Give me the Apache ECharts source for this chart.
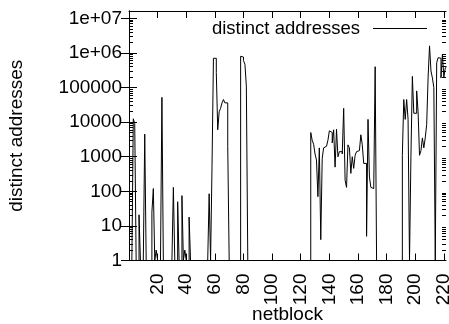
<!DOCTYPE html>
<html>
<head>
<meta charset="utf-8">
<script src="https://cdn.jsdelivr.net/npm/echarts@6/dist/echarts.min.js"></script>
<style>
  html, body { margin: 0; padding: 0; background: #fff; }
  #chart { width: 449px; height: 324px; }
</style>
</head>
<body>
<div id="chart"></div>
<script>
// Distinct source addresses seen per netblock (log scale).
const FIRST_BLOCK = 0;
const LAST_BLOCK = 222;
const X_MAX = 221.5;
const EMPTY_COUNT = 1;   // blocks with nothing observed rest on the axis floor

// Runs of consecutive netblocks: start block + counts
const runA_start = 0;
const runA = [1, 1, 1, 12500, 9000, 1, 1, 21, 1, 1, 1, 4500, 1, 1, 1, 1, 25, 120, 1, 2,
              1, 1, 1, 52000, 1, 1, 1, 1, 1, 1, 1, 130, 1, 1, 50, 1, 1, 75, 1, 2,
              1, 1, 18, 1];
const runB_start = 56;
const runB = [85, 1, 500, 700000, 700000, 270000, 6000, 20000, 25000, 36000, 45000,
              36000, 36000, 2000, 1];
const runC_start = 78;
const runC = [800000, 760000, 600000, 470000, 110000, 1];
const runD_start = 127;
const runD = [5000, 3000, 2300, 1200, 800, 70, 1800, 4, 900, 1800, 2000, 2000, 3000,
              5600, 5000, 2500, 6000, 500, 6200, 1000, 1400, 1400, 1200, 25000, 210,
              130, 2200, 1800, 330, 1000, 460, 1100, 1400, 1500, 1500, 4300, 2200, 640,
              640, 5, 12000, 260, 130, 120, 120, 400000, 1];
const runE_start = 191;
const runE = [1100, 45000, 12000, 45000, 12000, 1, 1000, 210000, 18000, 18000, 80000,
              20000, 1100, 1500, 3500, 1800, 3500, 8500, 200000, 1600000, 300000,
              190000, 100000, 1, 520000, 730000, 700000, 190000, 900000, 200000,
              370000, 400000];

const xTickValues = [20, 40, 60, 80, 100, 120, 140, 160, 180, 200, 220];
const xTickLabels = ['20', '40', '60', '80', '100', '120', '140', '160', '180', '200', '220'];
const yTickValues = [1, 10, 100, 1000, 10000, 100000, 1000000, 10000000];
const yTickLabels = ['1', '10', '100', '1000', '10000', '100000', '1e+06', '1e+07'];

const Y_MIN = 1;
const Y_MAX = 1.63e7;
const FONT = '"Liberation Sans", Arial, Helvetica, sans-serif';
const FS = 19;

// assemble the per-block counts
const blocks = [];
const counts = [];
for (let b = FIRST_BLOCK; b <= LAST_BLOCK; b++) { blocks.push(b); counts.push(EMPTY_COUNT); }
[[runA_start, runA], [runB_start, runB], [runC_start, runC], [runD_start, runD], [runE_start, runE]]
  .forEach(([start, vals]) => vals.forEach((v, i) => { counts[start + i - FIRST_BLOCK] = v; }));
const seriesData = blocks.map((b, i) => [b, counts[i]]);

// log minor ticks at 2..9 of each decade
const yMinorValues = [];
for (let d = 1; d < 1e7; d *= 10) for (let m = 2; m <= 9; m++) yMinorValues.push(m * d);

const xLabelMap = {};
xTickValues.forEach((v, i) => { xLabelMap[v] = xTickLabels[i]; });
const yLabelFor = v => yTickLabels[Math.round(Math.log10(v))];

const ink = '#000';
const baseY = {
  type: 'log', logBase: 10, min: Y_MIN, max: Y_MAX,
  splitLine: { show: false }, axisLabel: { show: false },
  axisLine: { show: false }
};

const chart = echarts.init(document.getElementById('chart'), null, { renderer: 'canvas' });
chart.setOption({
  animation: false,
  backgroundColor: '#fff',
  grid: { left: 129, right: 3, top: 11, bottom: 63.5, containLabel: false, outerBoundsMode: 'none' },
  legend: {
    data: ['distinct addresses'],
    right: 22, top: 19, padding: 0,
    align: 'right',
    icon: 'rect', itemWidth: 54, itemHeight: 1,
    itemStyle: { color: ink },
    textStyle: { fontFamily: FONT, fontSize: 18.5, color: ink, padding: [0, 8, 0, 0] }
  },
  xAxis: [
    {
      type: 'value', position: 'bottom', min: FIRST_BLOCK, max: X_MAX, interval: 20,
      name: 'netblock', nameLocation: 'middle', nameGap: 45, nameMoveOverlap: false,
      nameTextStyle: { fontFamily: FONT, fontSize: FS, color: ink },
      axisLine: { show: true, lineStyle: { color: ink, width: 1 } },
      axisTick: { show: true, inside: true, length: 7, customValues: xTickValues,
                  lineStyle: { color: ink, width: 1 } },
      axisLabel: { show: true, rotate: 90, margin: 13, customValues: xTickValues,
                   fontFamily: FONT, fontSize: FS, color: ink,
                   formatter: v => xLabelMap[v] },
      splitLine: { show: false }
    },
    {
      type: 'value', position: 'top', min: FIRST_BLOCK, max: X_MAX, interval: 20,
      axisLine: { show: true, lineStyle: { color: ink, width: 1 } },
      axisTick: { show: true, inside: true, length: 7, customValues: xTickValues,
                  lineStyle: { color: ink, width: 1 } },
      axisLabel: { show: false },
      splitLine: { show: false }
    }
  ],
  yAxis: [
    {
      type: 'log', logBase: 10, min: Y_MIN, max: Y_MAX, position: 'left',
      name: 'distinct addresses', nameLocation: 'middle', nameGap: 103, nameMoveOverlap: false,
      nameTextStyle: { fontFamily: FONT, fontSize: FS, color: ink },
      axisLine: { show: true, lineStyle: { color: ink, width: 1 } },
      axisTick: { show: true, inside: true, length: 8, customValues: yTickValues,
                  lineStyle: { color: ink, width: 1 } },
      axisLabel: { show: true, margin: 7, customValues: yTickValues,
                   fontFamily: FONT, fontSize: FS, color: ink,
                   formatter: yLabelFor },
      splitLine: { show: false }
    },
    {
      type: 'log', logBase: 10, min: Y_MIN, max: Y_MAX, position: 'right',
      axisLine: { show: true, lineStyle: { color: ink, width: 1 } },
      axisTick: { show: true, inside: true, length: 8, customValues: yTickValues,
                  lineStyle: { color: ink, width: 1 } },
      axisLabel: { show: false },
      splitLine: { show: false }
    },
    Object.assign({}, baseY, {
      position: 'left',
      axisTick: { show: true, inside: true, length: 4, customValues: yMinorValues,
                  lineStyle: { color: ink, width: 1 } }
    }),
    Object.assign({}, baseY, {
      position: 'right',
      axisTick: { show: true, inside: true, length: 4, customValues: yMinorValues,
                  lineStyle: { color: ink, width: 1 } }
    })
  ],
  series: [
    {
      name: 'distinct addresses',
      type: 'line',
      step: 'end',
      xAxisIndex: 0, yAxisIndex: 0,
      data: seriesData,
      showSymbol: false, symbol: 'none',
      lineStyle: { color: ink, width: 1 },
      itemStyle: { color: ink },
      clip: true
    }
  ]
});
</script>
</body>
</html>
